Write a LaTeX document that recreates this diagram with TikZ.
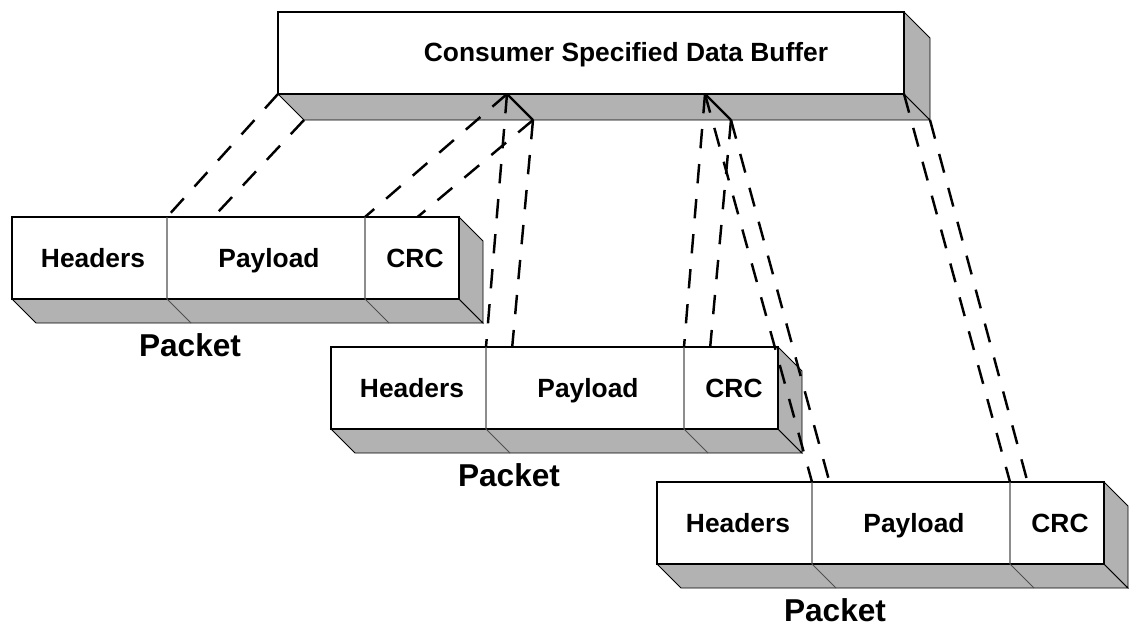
\documentclass[tikz,border=0pt]{standalone}
\usepackage{fontspec}
\setmainfont{Liberation Sans}
\definecolor{boxgray}{RGB}{178,178,178}
\definecolor{divgray}{RGB}{80,80,80}
\newcommand{\packet}[1]{%
  \begin{scope}[shift={(#1)}]
    \draw[shade] (0,82) -- (447,82) -- (471,106) -- (24,106) -- cycle;
    \draw[shade] (447,0) -- (471,24) -- (471,106) -- (447,82) -- cycle;
    \draw[front] (0,0) rectangle (447,82);
    \draw[divider] (155,0) -- (155,82) -- (179,106);
    \draw[divider] (353,0) -- (353,82) -- (377,106);
    \node[cell] (#1hdr) at (81,50) {Headers};
    \node[cell] (#1pay) at (257,50) {Payload};
    \node[cell] (#1crc) at (403,50) {CRC};
    \node[title] (#1name) at (178,139) {Packet};
  \end{scope}}
\begin{document}
\begin{tikzpicture}[x=0.02cm, y=-0.02cm]
\tikzstyle{front}=[draw=black, line width=0.6pt, fill=white]
\tikzstyle{shade}=[draw=black, line width=0.5pt, fill=boxgray]
\tikzstyle{divider}=[draw=divgray, line width=0.6pt]
\tikzstyle{link}=[black, line width=1.4pt, dash pattern=on 11pt off 9pt]
\tikzstyle{cell}=[anchor=base, inner sep=0pt, font=\bfseries\fontsize{15}{18}\selectfont]
\tikzstyle{title}=[anchor=base, inner sep=0pt, font=\bfseries\fontsize{18}{21}\selectfont]
\useasboundingbox (0,0) rectangle (1134,626);
% buffer
\draw[shade] (278,94) -- (904,94) -- (930,120) -- (304,120) -- cycle;
\draw[shade] (904,12) -- (930,38) -- (930,120) -- (904,94) -- cycle;
\draw[front] (278,12) rectangle (904,94);
\node[cell] (buftext) at (626,61) {Consumer Specified Data Buffer};
\coordinate (b0) at (278,94);  \coordinate (b0b) at (304,120);
\coordinate (b1) at (507,94);  \coordinate (b1b) at (533,120);
\coordinate (b2) at (705,94);  \coordinate (b2b) at (731,120);
\coordinate (b3) at (904,94);  \coordinate (b3b) at (930,120);
\draw[line width=1.4pt] (b1) -- (b1b);
\draw[line width=1.4pt] (b2) -- (b2b);
% packets
\foreach \p/\x/\y in {p1/12/217, p2/331/347, p3/657/482}{
  \coordinate (\p) at (\x,\y);
  \coordinate (\p l) at (\x+155,\y);  \coordinate (\p lb) at (\x+179,\y+24);
  \coordinate (\p r) at (\x+353,\y);  \coordinate (\p rb) at (\x+377,\y+24);
}
\draw[link] (b0) -- (p1l);  \draw[link] (b0b) -- (p1lb);
\draw[link] (b1) -- (p1r);  \draw[link] (b1b) -- (p1rb);
\draw[link] (b1) -- (p2l);  \draw[link] (b1b) -- (p2lb);
\draw[link] (b2) -- (p2r);  \draw[link] (b2b) -- (p2rb);
\packet{p1}
\packet{p2}
\draw[link] (b2) -- (p3l);  \draw[link] (b2b) -- (p3lb);
\draw[link] (b3) -- (p3r);  \draw[link] (b3b) -- (p3rb);
\packet{p3}
\end{tikzpicture}
\end{document}
